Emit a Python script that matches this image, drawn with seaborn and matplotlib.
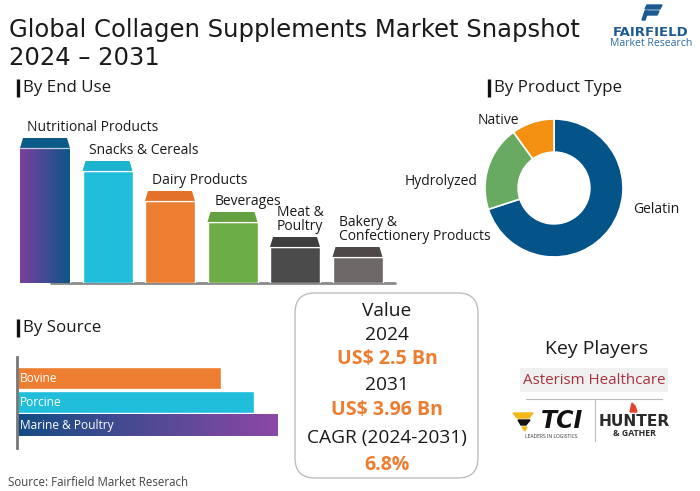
import numpy as np
import pandas as pd
import matplotlib
matplotlib.use("Agg")
import matplotlib.pyplot as plt
import seaborn as sns
from matplotlib.patches import Polygon, FancyBboxPatch, Rectangle
from matplotlib.colors import LinearSegmentedColormap

# ---------------- data ----------------
end_use_categories = ["Nutritional Products", "Snacks & Cereals", "Dairy Products",
                      "Beverages", "Meat &\nPoultry", "Bakery &\nConfectionery Products"]
end_use_values = [145, 122, 92, 71, 46, 36]
end_use_colors = ["#0B5689", "#20BEDB", "#ED7D31", "#6DAD46", "#4B4B4B", "#6E6767"]
end_use_cap_colors = ["#0B5A88", "#1CB3CF", "#E4712A", "#63A03F", "#3E3E3E", "#4E4848"]

product_types = ["Gelatin", "Hydrolyzed", "Native"]
product_shares = [70, 20, 10]
product_colors = ["#04548A", "#68AA62", "#F39012"]

source_categories = ["Bovine", "Porcine", "Marine & Poultry"]
source_values = [204, 237, 261]
source_colors = ["#ED7D31", "#20BEDB", "#1A4E85"]

value_lines = ["Value", "2024", "US$ 2.5 Bn", "2031", "US$ 3.96 Bn", "CAGR (2024-2031)", "6.8%"]
value_highlight = [False, False, True, False, True, False, True]

title_lines = ["Global Collagen Supplements Market Snapshot", "2024 \u2013 2031"]

# ---------------- setup ----------------
sns.set_style("white")
plt.rcParams["font.family"] = ["Open Sans", "DejaVu Sans"]

W, H = 700, 491
fig = plt.figure(figsize=(7, 4.91), dpi=100)
fig.patch.set_facecolor("white")


def px_axes(x0, y0, x1, y1):
    a = fig.add_axes([x0 / W, 1 - y1 / H, (x1 - x0) / W, (y1 - y0) / H])
    a.patch.set_visible(False)
    return a


bg = px_axes(0, 0, W, H)
bg.set_xlim(0, W)
bg.set_ylim(H, 0)
bg.axis("off")

TXT = "#1a1a1a"
ORANGE = "#EE7D31"

# title
bg.text(9, 36.5, title_lines[0], fontsize=17.5, color=TXT, va="baseline", ha="left",
        family=["DejaVu Sans"])
bg.text(9, 64.5, title_lines[1], fontsize=17.5, color=TXT, va="baseline", ha="left",
        family=["DejaVu Sans"])

# logo
bg.add_patch(Polygon([(647, 5), (662, 5), (660, 9), (645, 9)], closed=True, color="#1C5A92"))
bg.add_patch(Polygon([(646, 11), (659, 11), (657, 15), (645, 15)], closed=True, color="#1C5A92"))
bg.add_patch(Polygon([(645, 11), (648, 11), (645, 20), (642, 20)], closed=True, color="#1C5A92"))
bg.text(651, 32, "FAIRFIELD", fontsize=9.5, fontweight="bold", color="#1D5B92",
        ha="center", va="center", family=["DejaVu Sans"])
bg.text(651, 43, "Market Research", fontsize=7.6, color="#2E6DA8", ha="center", va="center")

# section headers
for bx, tx, ty, label in [(18, 23, 88, "By End Use"), (489, 494, 88, "By Product Type"),
                          (18, 23, 328, "By Source")]:
    bg.plot([bx, bx], [ty - 9, ty + 9], color="#111111", lw=2.4, solid_capstyle="butt")
    bg.text(tx, ty, label, fontsize=12.2, color=TXT, va="center", ha="left")

# ---------------- End use bar chart ----------------
ax1 = px_axes(13.75, 123, 388.75, 283)
df_end = pd.DataFrame({"cat": end_use_categories, "val": end_use_values})
sns.barplot(data=df_end, x="cat", y="val", hue="cat", palette=end_use_colors,
            width=0.8, saturation=1, legend=False, ax=ax1, zorder=2)
ax1.axis("off")
ax1.plot([0.1, 5.6], [0, 0], color="#8A8A8A", lw=2, zorder=1, clip_on=False)

cap_h = 10
inset = 3 / 62.5
grad1 = LinearSegmentedColormap.from_list("g1", ["#7B3F9D", "#0B5689"])
for i, p in enumerate(list(ax1.patches)):
    x, w, h = p.get_x(), p.get_width(), p.get_height()
    p.set_height(h - cap_h)
    ax1.add_patch(Polygon([(x, h - cap_h), (x + w, h - cap_h), (x + w - inset, h), (x + inset, h)],
                          closed=True, facecolor=end_use_cap_colors[i], edgecolor="none", zorder=3))
    ax1.plot([x, x + w], [h - cap_h, h - cap_h], color="white", lw=0.9, alpha=0.7, zorder=4)
    if i == 0:
        grad = np.linspace(0, 1, 256).reshape(1, -1)
        im = ax1.imshow(grad, cmap=grad1, extent=[x, x + w, 0, h - cap_h], aspect="auto", zorder=2.5)
        im.set_clip_path(p)
    ax1.annotate(end_use_categories[i], xy=(x + 0.11, h), xytext=(0, 2),
                 textcoords="offset points", ha="left", va="bottom", fontsize=10,
                 color=TXT, linespacing=0.9)
ax1.set_xlim(-0.5, 5.5)
ax1.set_ylim(0, 160)

# ---------------- Product type donut ----------------
ax2 = px_axes(485, 119, 623, 257)
ax2.pie(product_shares, colors=product_colors, startangle=90, counterclock=False, radius=1,
        wedgeprops=dict(width=0.48, edgecolor="white", linewidth=1.2))
ax2.set_xlim(-1, 1)
ax2.set_ylim(-1, 1)
ax2.set_aspect("equal")
ax2.text(-0.81, 0.98, product_types[2], ha="center", va="center", fontsize=10, color=TXT)
ax2.text(-1.64, 0.09, product_types[1], ha="center", va="center", fontsize=10, color=TXT)
ax2.text(1.48, -0.31, product_types[0], ha="center", va="center", fontsize=10, color=TXT)

# ---------------- Source bars ----------------
ax3 = px_axes(17, 357, 317, 448)
df_src = pd.DataFrame({"cat": source_categories, "val": source_values})
sns.barplot(data=df_src, y="cat", x="val", hue="cat", palette=source_colors, orient="h",
            width=0.94, saturation=1, legend=False, ax=ax3, zorder=2)
for s in ["top", "right", "bottom"]:
    ax3.spines[s].set_visible(False)
ax3.spines["left"].set_color("#777777")
ax3.spines["left"].set_linewidth(2)
ax3.set_xticks([])
ax3.set_yticks([])
ax3.set_xlabel("")
ax3.set_ylabel("")
grad3 = LinearSegmentedColormap.from_list("g3", ["#134C83", "#8C47A6"])
for i, p in enumerate(list(ax3.patches)):
    if i == 2:
        x, y, w, h = p.get_x(), p.get_y(), p.get_width(), p.get_height()
        grad = np.linspace(0, 1, 256).reshape(1, -1)
        im = ax3.imshow(grad, cmap=grad3, extent=[x, x + w, y + h, y], aspect="auto", zorder=2.5)
        im.set_clip_path(p)
    ax3.text(2.5, i + 0.02, source_categories[i], color="white", va="center", ha="left",
             fontsize=8.6, zorder=5)
ax3.set_xlim(0, 300)
ax3.set_ylim(2.98, -0.915)

# ---------------- Value box ----------------
bg.add_patch(FancyBboxPatch((295, 293), 183, 185, boxstyle="round,pad=0,rounding_size=20",
                            facecolor="white", edgecolor="#BDBDBD", lw=1, zorder=0))
ys = [311, 335, 359, 385, 410, 438, 465]
for txt, hl, yy in zip(value_lines, value_highlight, ys):
    if hl:
        bg.text(387, yy, txt, ha="center", va="center", fontsize=14, fontweight="bold", color=ORANGE)
    else:
        bg.text(387, yy, txt, ha="center", va="center", fontsize=13.8, color=TXT)

# ---------------- Key players ----------------
bg.text(597, 349, "Key Players", ha="center", va="center", fontsize=14, color=TXT)
bg.add_patch(Rectangle((520, 368), 148, 24, facecolor="#F0F0F0", edgecolor="none"))
bg.text(594, 380, "Asterism Healthcare", ha="center", va="center", fontsize=10.9, color="#A8323E")
bg.plot([526, 662], [399, 399], color="#BBBBBB", lw=0.8)
bg.plot([595, 595], [400, 441], color="#BBBBBB", lw=0.8)
# TCI
bg.add_patch(Polygon([(513, 413), (533, 413), (529, 418), (517, 418)], closed=True, color="#F2B817"))
bg.add_patch(Polygon([(518, 420), (530, 420), (526, 425), (521, 425)], closed=True, color="#111111"))
bg.add_patch(Polygon([(522, 427), (527, 427), (525, 431)], closed=True, color="#F2B817"))
bg.text(562, 421, "TCI", ha="center", va="center", fontsize=17, fontweight="bold",
        fontstyle="italic", color="#111111", family=["DejaVu Sans"])
bg.text(551, 436, "LEADERS IN LOGISTICS", ha="center", va="center", fontsize=3.6, color="#333333")
# Hunter & Gather
bg.add_patch(Polygon([(630, 412), (632, 403), (635, 406), (637, 412)], closed=True, color="#E8402A"))
bg.text(634, 421.5, "HUNTER", ha="center", va="center", fontsize=11.2, fontweight="bold",
        color="#2A2A2A", family=["DejaVu Sans"])
bg.text(634, 433.5, "& GATHER", ha="center", va="center", fontsize=6.3, fontweight="bold",
        color="#2A2A2A")

# source
bg.text(8, 482, "Source: Fairfield Market Reserach", ha="left", va="center", fontsize=8.3, color="#444444")

fig.savefig("out.png", dpi=100, facecolor="white")
